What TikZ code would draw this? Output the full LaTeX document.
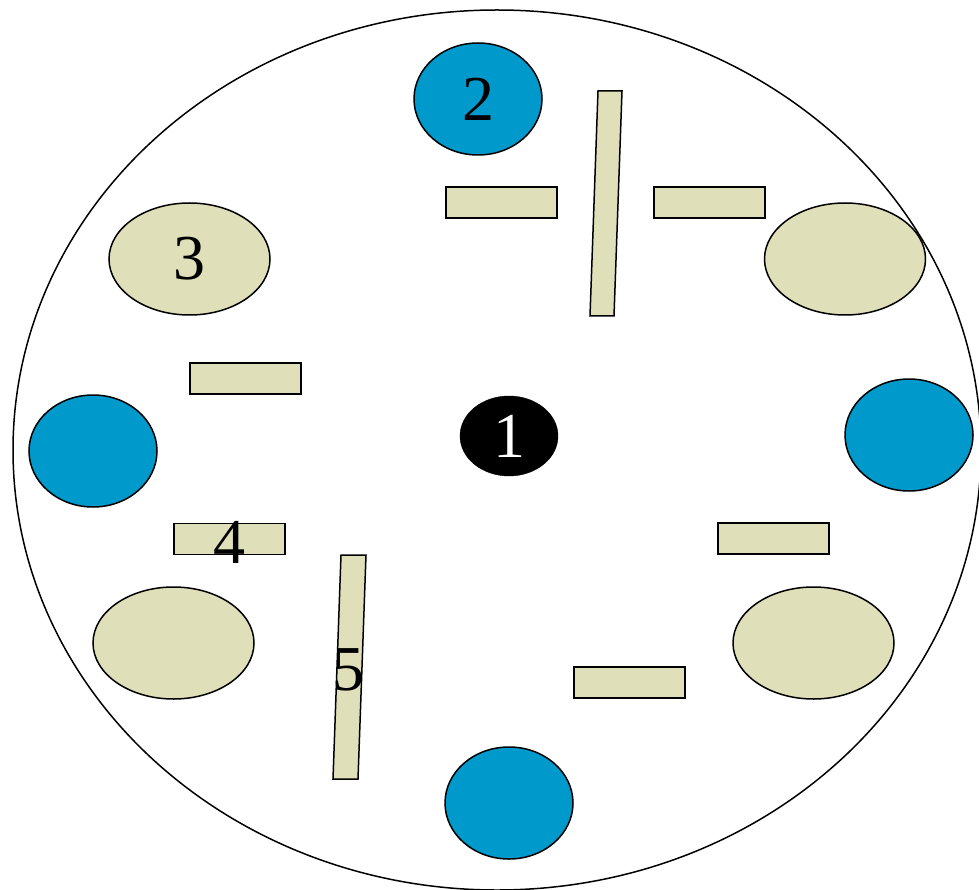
\documentclass[tikz,border=0pt]{standalone}
\usepackage{fontspec}
\setmainfont{Liberation Serif}
\usetikzlibrary{shapes.geometric}
\definecolor{cblue}{RGB}{0,153,204}
\definecolor{cbeige}{RGB}{223,223,185}
\begin{document}
\begin{tikzpicture}[x=1pt,y=-1pt,
  blueell/.style={ellipse, draw=black, line width=1.5pt, fill=cblue, minimum width=128pt, minimum height=112pt, inner sep=0pt},
  beigeell/.style={ellipse, draw=black, line width=1.5pt, fill=cbeige, minimum width=161pt, minimum height=112pt, inner sep=0pt},
  barbox/.style={draw=black, line width=1.5pt, fill=cbeige, minimum width=111pt, minimum height=31pt, inner sep=0pt},
  slant/.style={draw=black, line width=1.5pt, fill=cbeige},
  lbl/.style={font=\fontsize{64}{64}\selectfont, inner sep=0pt}]
\useasboundingbox (0,0) rectangle (979,890);
% outer ellipse
\draw[line width=1.5pt] (497,450) ellipse [x radius=484, y radius=440];
% blue ellipses
\node[blueell, lbl] (b2) at (478,99) {2};
\node[blueell] (bl) at (93,451) {};
\node[blueell] (br) at (909,435) {};
\node[blueell] (bb) at (509,803) {};
% beige ellipses
\node[beigeell, lbl] (e3) at (189.5,259) {3};
\node[beigeell] (etr) at (845,259) {};
\node[beigeell] (ebl) at (173.5,643) {};
\node[beigeell] (ebr) at (813.5,643) {};
% centre
\node[ellipse, fill=black, draw=black, minimum width=98pt, minimum height=80pt, inner sep=0pt, text=white, lbl] (c1) at (509,436) {1};
% bars
\node[barbox] (r1) at (501.5,202.5) {};
\node[barbox] (r2) at (709.5,202.5) {};
\node[barbox] (r3) at (245.5,378.5) {};
\node[barbox] (r4) at (229.5,539) {};
\node[barbox] (r5) at (773.5,538.5) {};
\node[barbox] (r6) at (629.5,682.5) {};
% slanted bars
\draw[slant] (598,91) -- (622,91) -- (614,316) -- (590,316) -- cycle;
\draw[slant] (341,555) -- (366,555) -- (358,779) -- (333,779) -- cycle;
% labels
\node[lbl] (l4) at (229,542) {4};
\node[lbl] (l5) at (348,670) {5};
\end{tikzpicture}
\end{document}
